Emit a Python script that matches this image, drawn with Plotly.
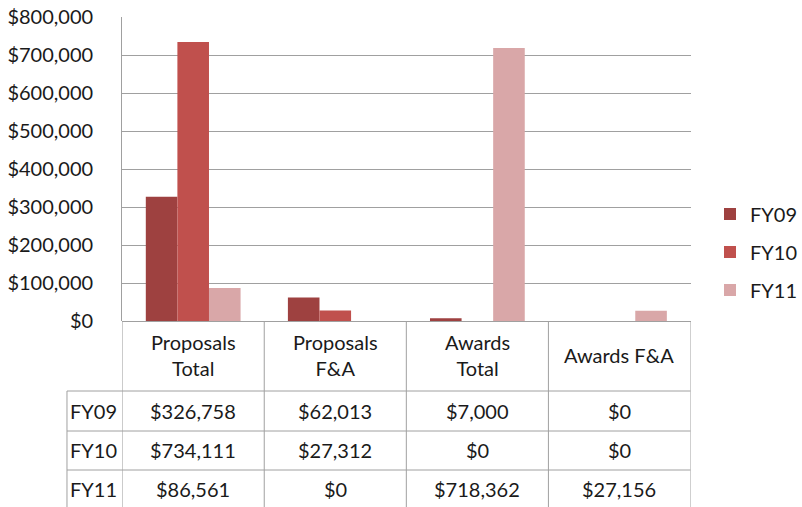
import plotly.graph_objects as go

categories = ["Proposals Total", "Proposals F&A", "Awards Total", "Awards F&A"]
header_labels = ["Proposals<br>Total", "Proposals<br>F&A", "Awards<br>Total", "Awards F&A"]
series_names = ["FY09", "FY10", "FY11"]
fy09 = [326758, 62013, 7000, 0]
fy10 = [734111, 27312, 0, 0]
fy11 = [86561, 0, 718362, 27156]
tick_vals = [0, 100000, 200000, 300000, 400000, 500000, 600000, 700000, 800000]
colors = ["#9E4140", "#C0504D", "#D9A7A8"]

series_values = [fy09, fy10, fy11]
FONT = "Lato"
FS = 20
TXT = "#1a1a1a"
LINE = "#A0A0A0"

fig = go.Figure()
for name, vals, col in zip(series_names, series_values, colors):
    fig.add_trace(go.Bar(x=categories, y=vals, name=name, marker=dict(color=col, line=dict(width=0)),
                         legendgroup=name))

W, H = 802, 507
L, R, T, B = 124, 701, 17, 321

def py(ypx):
    return 1 - ypx / H

def px(xpx):
    return xpx / W

shapes = []
for ypx in [391, 431, 470]:
    shapes.append(dict(type="line", xref="paper", yref="paper", x0=px(68), x1=px(R), y0=py(ypx), y1=py(ypx),
                       line=dict(color=LINE, width=1)))
shapes.append(dict(type="line", xref="paper", yref="paper", x0=px(68), x1=px(68), y0=py(391), y1=py(510),
                   line=dict(color=LINE, width=1)))
for i in range(len(categories) + 1):
    shapes.append(dict(type="line", xref="x", yref="paper", x0=i - 0.5, x1=i - 0.5, y0=py(B), y1=py(510),
                       line=dict(color=LINE, width=1)))

annotations = []
for i, lab in enumerate(header_labels):
    annotations.append(dict(xref="x", yref="paper", x=i, y=py(355), text=lab, showarrow=False,
                            font=dict(family=FONT, size=FS, color=TXT), align="center",
                            xanchor="center", yanchor="middle"))
row_y = [411, 450, 489]
for r, (name, vals) in enumerate(zip(series_names, series_values)):
    annotations.append(dict(xref="paper", yref="paper", x=px(95), y=py(row_y[r]), text=name, showarrow=False,
                            font=dict(family=FONT, size=FS, color=TXT), xanchor="center", yanchor="middle"))
    for i, v in enumerate(vals):
        annotations.append(dict(xref="x", yref="paper", x=i, y=py(row_y[r]), text=f"${v:,.0f}",
                                showarrow=False, font=dict(family=FONT, size=FS, color=TXT),
                                xanchor="center", yanchor="middle"))

fig.update_layout(
    width=W, height=H, autosize=False,
    margin=dict(l=0, r=0, t=0, b=0, pad=0),
    paper_bgcolor="white", plot_bgcolor="white",
    barmode="group", bargap=0.333, bargroupgap=0,
    font=dict(family=FONT, size=FS, color=TXT),
    xaxis=dict(domain=[px(L), px(R)], showticklabels=False, showgrid=False, zeroline=False, showline=False,
               range=[-0.5, 3.5], fixedrange=True),
    yaxis=dict(domain=[py(B), py(T)], range=[0, 800000], tickvals=tick_vals, tickformat="$,.0f",
               showgrid=True, automargin=False,
               gridcolor=LINE, gridwidth=1, zeroline=True, zerolinecolor=LINE, zerolinewidth=1,
               showline=True, linecolor=LINE, linewidth=1, ticks="", ticklabelstandoff=24,
               tickfont=dict(family=FONT, size=FS, color=TXT)),
    legend=dict(x=px(721), y=py(252), xanchor="left", yanchor="middle", traceorder="grouped",
                tracegroupgap=9, font=dict(family=FONT, size=FS, color=TXT), itemwidth=30),
    shapes=shapes, annotations=annotations,
)

post = ("var gd=document.getElementById('{plot_id}');"
        "document.body.style.margin='0';document.body.style.overflow='hidden';"
        "Plotly.relayout(gd,{width:802,height:507});")
fig.write_html("out.html", post_script=post, config={"responsive": False, "displayModeBar": False})
